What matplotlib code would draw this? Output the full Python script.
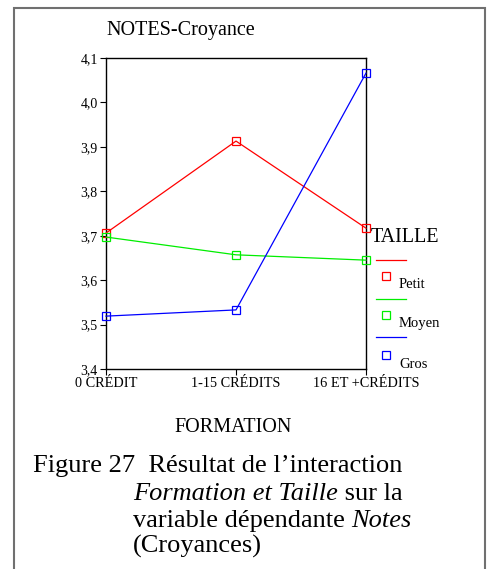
import numpy as np
import matplotlib
matplotlib.use("Agg")
import matplotlib.pyplot as plt
from matplotlib.patches import Rectangle
from matplotlib.lines import Line2D

plt.rcParams['font.family'] = ['Liberation Serif', 'DejaVu Serif']

# %% data
categories = ["0 CRÉDIT", "1-15 CRÉDITS", "16 ET +CRÉDITS"]
series_names = ["Petit", "Moyen", "Gros"]
petit = [3.706, 3.913, 3.717]
moyen = [3.697, 3.657, 3.645]
gros = [3.519, 3.533, 4.066]
colors = ["#ff0000", "#00ee00", "#0000ff"]
yticks = [3.4, 3.5, 3.6, 3.7, 3.8, 3.9, 4.0, 4.1]

# %% figure
W, H = 498, 569
fig = plt.figure(figsize=(W / 100, H / 100), dpi=100)

def fx(px):
    return px / W

def fy(py):
    return 1 - py / H

# outer frame (bottom is cut off in the original)
fig.patches.append(Rectangle((fx(14), fy(600)), fx(485) - fx(14), fy(8) - fy(600),
                             transform=fig.transFigure, fill=False,
                             edgecolor="#707070", linewidth=1.5))

ax = fig.add_axes([fx(106), fy(369), fx(366) - fx(106), fy(58) - fy(369)])
x = np.arange(len(categories))
for vals, c in zip([petit, moyen, gros], colors):
    ax.plot(x, vals, color=c, linewidth=0.9, marker="s", markersize=6,
            markerfacecolor="none", markeredgecolor=c, markeredgewidth=0.9,
            clip_on=False, zorder=3)

ax.set_xlim(0, 2)
ax.set_ylim(3.4, 4.1)
ax.set_xticks(x)
ax.set_xticklabels(categories, fontsize=10.3)
ax.set_yticks(yticks)
ax.set_yticklabels([f"{t:.1f}".replace(".", ",") for t in yticks], fontsize=10)
ax.tick_params(direction="out", length=4, width=0.8, pad=2)
for s in ax.spines.values():
    s.set_linewidth(1.0)

fig.text(fx(106), fy(31), "NOTES-Croyance", fontsize=14.5, va="center", ha="left")

# legend drawn by hand to mimic the original layout
fig.text(fx(371), fy(238), "TAILLE", fontsize=14.5, va="center", ha="left")
leg_line_y = [260, 299, 337]
leg_mark_y = [276, 315, 355]
leg_text_y = [285, 324, 364]
for name, c, ly, my, ty in zip(series_names, colors, leg_line_y, leg_mark_y, leg_text_y):
    fig.add_artist(Line2D([fx(376), fx(406)], [fy(ly), fy(ly)], color=c,
                          linewidth=0.9, transform=fig.transFigure))
    fig.add_artist(Line2D([fx(386)], [fy(my)], marker="s", markersize=6,
                          markerfacecolor="none", markeredgecolor=c,
                          markeredgewidth=0.9, transform=fig.transFigure))
    fig.text(fx(399), fy(ty), name, fontsize=10.5, va="center", ha="left")

fig.text(fx(233), fy(427), "FORMATION", fontsize=14.5, va="center", ha="center")

# caption, with italic runs placed one after the other
renderer = fig.canvas.get_renderer()
cap_size = 19

def put_runs(x0, y0, runs):
    xpos = fx(x0)
    for txt, sty in runs:
        t = fig.text(xpos, fy(y0), txt, fontsize=cap_size, style=sty,
                     va="baseline", ha="left")
        bb = t.get_window_extent(renderer=renderer)
        xpos += bb.width / W

put_runs(33, 472, [("Figure 27  Résultat de l\u2019interaction", "normal")])
put_runs(133, 500, [("Formation et Taille", "italic"), (" sur la", "normal")])
put_runs(133, 527, [("variable dépendante ", "normal"), ("Notes", "italic")])
put_runs(133, 553, [("(Croyances)", "normal")])

fig.savefig("out.png", dpi=100)
